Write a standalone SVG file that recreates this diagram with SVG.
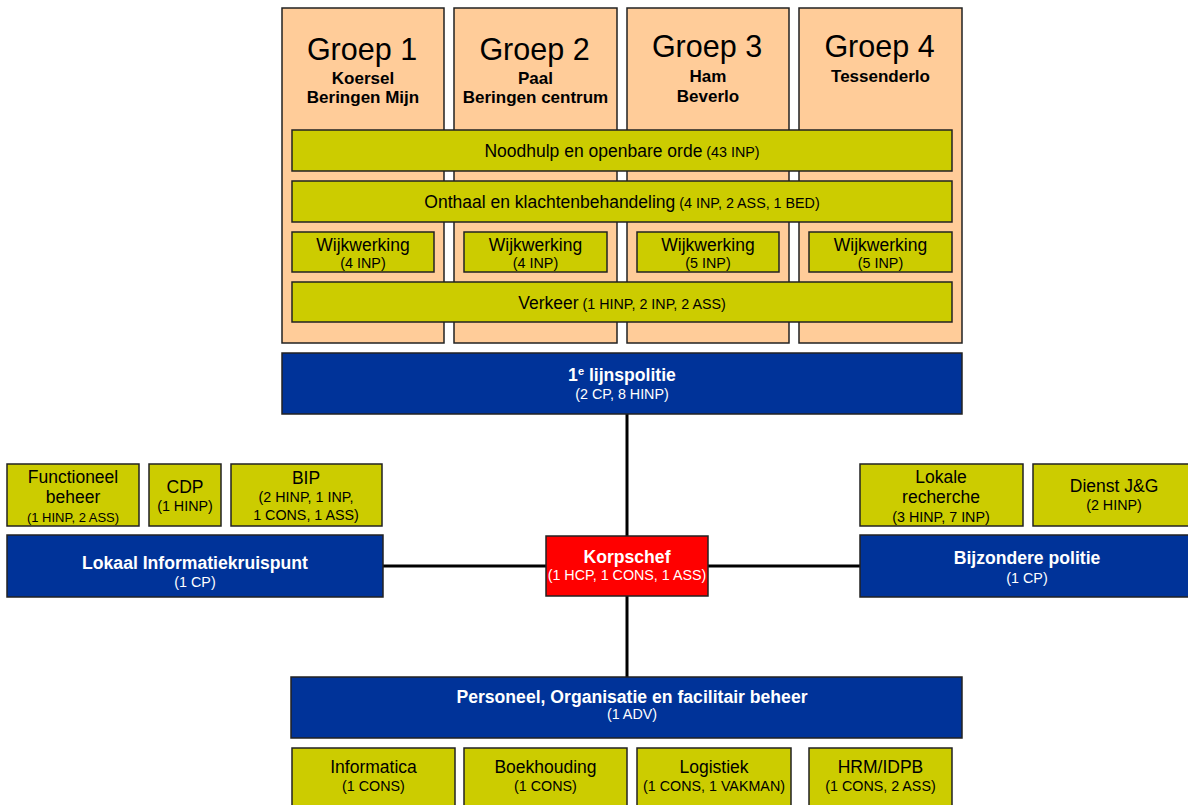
<svg xmlns="http://www.w3.org/2000/svg" width="1188" height="805" viewBox="0 0 1188 805">
<style>
text{font-family:"Liberation Sans",Arial,sans-serif;text-anchor:middle;fill:#000}
.grp{fill:#FFCC99;stroke:#222;stroke-width:1.5}
.ol{fill:#CCCC00;stroke:#222;stroke-width:1.5}
.bl{fill:#003399;stroke:#222;stroke-width:1.5}
.rd{fill:#FF0000;stroke:#222;stroke-width:1.5}
.big{font-size:30.5px}
.sub{font-size:17px;font-weight:bold}
.lbl{font-size:17.5px}
.sm{font-size:14.3px}
.bt{font-size:17.6px;font-weight:bold;fill:#fff}
.ws{font-size:14.3px;fill:#fff}
.conn{stroke:#000;stroke-width:3;fill:none}
</style>
<g id="connectors">
<line class="conn" x1="627" y1="414" x2="627" y2="677"/>
<line class="conn" x1="383" y1="566" x2="860" y2="566"/>
</g>
<g id="groep1"><rect class="grp" x="282" y="8" width="162" height="335"/>
<text class="big" x="362" y="60">Groep 1</text><text class="sub" x="363" y="84">Koersel</text><text class="sub" x="363" y="103">Beringen Mijn</text></g>
<g id="groep2"><rect class="grp" x="454" y="8" width="163" height="335"/>
<text class="big" x="534.5" y="60">Groep 2</text><text class="sub" x="535.5" y="84">Paal</text><text class="sub" x="535.5" y="103">Beringen centrum</text></g>
<g id="groep3"><rect class="grp" x="627" y="8" width="162" height="335"/>
<text class="big" x="707" y="57">Groep 3</text><text class="sub" x="708" y="82">Ham</text><text class="sub" x="708" y="102">Beverlo</text></g>
<g id="groep4"><rect class="grp" x="799" y="8" width="163" height="335"/>
<text class="big" x="879.5" y="57">Groep 4</text><text class="sub" x="880.5" y="82">Tessenderlo</text></g>
<g id="noodhulp"><rect class="ol" x="292" y="130" width="660" height="41"/>
<text x="622" y="157"><tspan class="lbl">Noodhulp en openbare orde</tspan><tspan class="sm"> (43 INP)</tspan></text></g>
<g id="onthaal"><rect class="ol" x="292" y="181" width="660" height="41"/>
<text x="622" y="208"><tspan class="lbl">Onthaal en klachtenbehandeling</tspan><tspan class="sm"> (4 INP, 2 ASS, 1 BED)</tspan></text></g>
<g id="wijk1"><rect class="ol" x="292" y="232" width="142" height="40"/>
<text class="lbl" x="363" y="251">Wijkwerking</text><text class="sm" x="363" y="268">(4 INP)</text></g>
<g id="wijk2"><rect class="ol" x="464" y="232" width="143" height="40"/>
<text class="lbl" x="535.5" y="251">Wijkwerking</text><text class="sm" x="535.5" y="268">(4 INP)</text></g>
<g id="wijk3"><rect class="ol" x="637" y="232" width="142" height="40"/>
<text class="lbl" x="708" y="251">Wijkwerking</text><text class="sm" x="708" y="268">(5 INP)</text></g>
<g id="wijk4"><rect class="ol" x="809" y="232" width="143" height="40"/>
<text class="lbl" x="880.5" y="251">Wijkwerking</text><text class="sm" x="880.5" y="268">(5 INP)</text></g>
<g id="verkeer"><rect class="ol" x="292" y="282" width="660" height="40"/>
<text x="622" y="309"><tspan class="lbl">Verkeer</tspan><tspan class="sm"> (1 HINP, 2 INP, 2 ASS)</tspan></text></g>
<g id="lijnspolitie"><rect class="bl" x="282" y="353" width="680" height="61"/>
<text class="bt" x="622" y="381">1<tspan font-size="11" dy="-6">e</tspan><tspan dy="6"> lijnspolitie</tspan></text><text class="ws" x="622" y="399">(2 CP, 8 HINP)</text></g>
<g id="functioneel"><rect class="ol" x="7" y="464" width="132" height="62"/>
<text class="lbl" x="73" y="483">Functioneel</text><text class="lbl" x="73" y="503">beheer</text><text x="73" y="522" font-size="13">(1 HINP, 2 ASS)</text></g>
<g id="cdp"><rect class="ol" x="149" y="464" width="72" height="62"/>
<text class="lbl" x="185" y="493">CDP</text><text class="sm" x="185" y="511">(1 HINP)</text></g>
<g id="bip"><rect class="ol" x="231" y="464" width="151" height="62"/>
<text class="lbl" x="306" y="484">BIP</text><text class="sm" x="306" y="502">(2 HINP, 1 INP,</text><text class="sm" x="306" y="520">1 CONS, 1 ASS)</text></g>
<g id="lokaal"><rect class="bl" x="7" y="535" width="376" height="62"/>
<text class="bt" x="195" y="569">Lokaal Informatiekruispunt</text><text class="ws" x="195" y="587">(1 CP)</text></g>
<g id="korpschef"><rect class="rd" x="546" y="536" width="162" height="60"/>
<text class="bt" x="627" y="563">Korpschef</text><text class="ws" x="627" y="580">(1 HCP, 1 CONS, 1 ASS)</text></g>
<g id="recherche"><rect class="ol" x="860" y="464" width="163" height="62"/>
<text class="lbl" x="941" y="483">Lokale</text><text class="lbl" x="941" y="503">recherche</text><text class="sm" x="941" y="522">(3 HINP, 7 INP)</text></g>
<g id="jeugd"><rect class="ol" x="1033" y="464" width="162" height="62"/>
<text class="lbl" x="1114" y="492">Dienst J&amp;G</text><text class="sm" x="1114" y="510">(2 HINP)</text></g>
<g id="bijzondere"><rect class="bl" x="860" y="535" width="334" height="62"/>
<text class="bt" x="1027" y="564">Bijzondere politie</text><text class="ws" x="1027" y="583">(1 CP)</text></g>
<g id="personeel"><rect class="bl" x="291" y="677" width="671" height="61"/>
<text class="bt" x="632" y="703">Personeel, Organisatie en facilitair beheer</text><text class="ws" x="632" y="719">(1 ADV)</text></g>
<g id="informatica"><rect class="ol" x="292" y="748" width="163" height="62"/>
<text class="lbl" x="373.5" y="773">Informatica</text><text class="sm" x="373.5" y="791">(1 CONS)</text></g>
<g id="boekhouding"><rect class="ol" x="464" y="748" width="163" height="62"/>
<text class="lbl" x="545.5" y="773">Boekhouding</text><text class="sm" x="545.5" y="791">(1 CONS)</text></g>
<g id="logistiek"><rect class="ol" x="637" y="748" width="154" height="62"/>
<text class="lbl" x="714" y="773">Logistiek</text><text class="sm" x="714" y="791">(1 CONS, 1 VAKMAN)</text></g>
<g id="hrm"><rect class="ol" x="809" y="748" width="143" height="62"/>
<text class="lbl" x="880.5" y="773">HRM/IDPB</text><text class="sm" x="880.5" y="791">(1 CONS, 2 ASS)</text></g>
</svg>
